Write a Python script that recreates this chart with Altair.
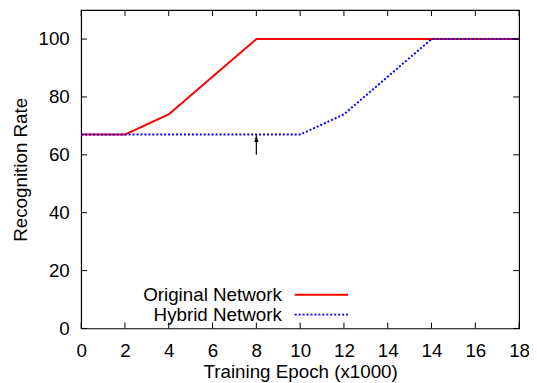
import json
import altair as alt
import pandas as pd

# ---- data ----
x_labels = ["0", "2", "4", "6", "8", "10", "12", "14", "14", "16", "18"]
series_names = ["Original Network", "Hybrid Network"]
original = [67, 67, 74, 87, 100, 100, 100, 100, 100, 100, 100]
hybrid = [67, 67, 67, 67, 67, 67, 74, 87, 100, 100, 100]
y_ticks = [0, 20, 40, 60, 80, 100]
arrow_pos = [4]
arrow_from = [60]
arrow_to = [66.8]
colors = ["#ff0000", "#0000ff"]

idx = list(range(len(x_labels)))
rows = []
for s, vals in zip(series_names, [original, hybrid]):
    for i in idx:
        rows.append({"i": i, "rate": vals[i], "series": s})
df = pd.DataFrame(rows)

W, H = 443, 322
FONT = "Liberation Sans"
FS = 19
TICK = 6

xscale = alt.Scale(domain=[0, len(x_labels) - 1], nice=False, zero=False)
yscale = alt.Scale(domain=[0, 110], nice=False)
label_expr = json.dumps(x_labels) + "[datum.value]"
xaxis = alt.Axis(values=idx, labelExpr=label_expr, title="Training Epoch (x1000)",
                 labelPadding=13, titlePadding=3, labelFlush=False, labelOverlap=False)
yaxis = alt.Axis(values=y_ticks, title="Recognition Rate", labelPadding=12, titlePadding=8,
                 labelFlush=False, labelOverlap=False)


def X(field):
    return alt.X(field, scale=xscale, axis=xaxis)


def Y(field):
    return alt.Y(field, scale=yscale, axis=yaxis)


lines = []
for s, c, dash in zip(series_names, colors, [[1, 0], [2, 2]]):
    lines.append(
        alt.Chart(df[df.series == s]).mark_line(color=c, strokeWidth=2, strokeDash=dash, strokeCap="butt").encode(
            x=X("i:Q"), y=Y("rate:Q"))
    )

xt = pd.DataFrame({"i": idx})
yt = pd.DataFrame({"rate": y_ticks})
tick_layers = [
    alt.Chart(xt).mark_rule(color="black", strokeWidth=1).encode(
        x=X("i:Q"), y=alt.value(H), y2=alt.value(H - TICK)),
    alt.Chart(xt).mark_rule(color="black", strokeWidth=1).encode(
        x=X("i:Q"), y=alt.value(0), y2=alt.value(TICK)),
    alt.Chart(yt).mark_rule(color="black", strokeWidth=1).encode(
        y=Y("rate:Q"), x=alt.value(0), x2=alt.value(TICK)),
    alt.Chart(yt).mark_rule(color="black", strokeWidth=1).encode(
        y=Y("rate:Q"), x=alt.value(W - TICK), x2=alt.value(W)),
]

adf = pd.DataFrame({"i": arrow_pos, "rate": arrow_from, "b": arrow_to})
arrow_line = alt.Chart(adf).mark_rule(color="black", strokeWidth=1.2).encode(
    x=X("i:Q"), y=Y("rate:Q"), y2="b:Q",
)
arrow_head = alt.Chart(adf).mark_point(
    shape="M0,-1L0.6,1L-0.6,1Z", filled=True, color="black", opacity=1, size=49, yOffset=3.5
).encode(
    x=X("i:Q"), y=Y("b:Q"),
)

# legend (gnuplot style: text then sample line)
leg_layers = []
leg_y = [H - 34, H - 14]
for s, c, dash, ly in zip(series_names, colors, [[1, 0], [2, 2]], leg_y):
    ldf = pd.DataFrame({"series": [s]})
    leg_layers.append(
        alt.Chart(ldf).mark_text(align="right", baseline="middle", font=FONT, fontSize=FS, color="black").encode(
            text="series:N", x=alt.value(203), y=alt.value(ly)))
    leg_layers.append(
        alt.Chart(ldf).mark_rule(color=c, strokeWidth=2, strokeDash=dash, strokeCap="butt").encode(
            x=alt.value(216), x2=alt.value(270), y=alt.value(ly)))

chart = alt.layer(*lines, *tick_layers, arrow_line, arrow_head, *leg_layers).properties(
    width=W, height=H,
    autosize=alt.AutoSizeParams(type="none"),
    padding={"left": 74, "top": 0, "right": 10, "bottom": 52},
).configure_view(stroke="black", strokeWidth=1.2).configure_axis(
    domain=False, ticks=False, grid=False,
    labelFont=FONT, labelFontSize=FS, labelColor="black",
    titleFont=FONT, titleFontSize=FS, titleColor="black", titleFontWeight="normal",
)

chart.save("out.html", embed_options={"renderer": "svg", "actions": False})
